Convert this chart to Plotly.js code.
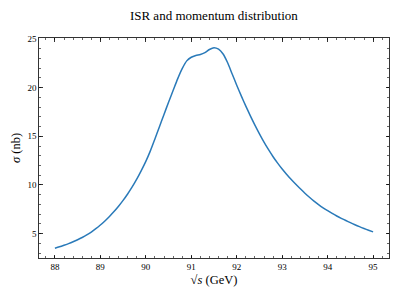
<!DOCTYPE html>
<html>
<head>
<meta charset="utf-8">
<script src="https://cdn.plot.ly/plotly-3.0.1.min.js"></script>
<style>html,body{margin:0;padding:0;background:#fff;}#chart{width:399px;height:299px;}</style>
</head>
<body>
<div id="chart"></div>
<script>
const energy = [88.0,88.1,88.2,88.3,88.4,88.5,88.6,88.7,88.8,88.9,
  89.0,89.1,89.2,89.3,89.4,89.5,89.6,89.7,89.8,89.9,
  90.0,90.1,90.2,90.3,90.4,90.5,90.6,90.7,90.8,90.9,
  91.0,91.1,91.2,91.3,91.4,91.5,91.6,91.7,91.8,91.9,
  92.0,92.1,92.2,92.3,92.4,92.5,92.6,92.7,92.8,92.9,
  93.0,93.1,93.2,93.3,93.4,93.5,93.6,93.7,93.8,93.9,
  94.0,94.1,94.2,94.3,94.4,94.5,94.6,94.7,94.8,94.9,95.0];
const sigma = [3.5,3.64,3.8,3.97,4.16,4.37,4.6,4.86,5.16,5.5,
  5.88,6.3,6.76,7.26,7.81,8.41,9.07,9.79,10.59,11.47,
  12.42,13.5,14.72,15.98,17.24,18.5,19.7,20.9,21.95,22.75,
  23.12,23.3,23.4,23.6,23.92,24.1,23.95,23.45,22.55,21.4,
  20.25,19.15,18.1,17.1,16.15,15.25,14.4,13.62,12.9,12.24,
  11.63,11.07,10.55,10.07,9.6,9.15,8.73,8.34,7.98,7.65,
  7.35,7.07,6.81,6.57,6.34,6.12,5.91,5.71,5.52,5.34,5.17];
const xTicks = [88,89,90,91,92,93,94,95];
const yTicks = [5,10,15,20,25];
const titleText = 'ISR and momentum distribution';
const xLabel = '\u221A<i>s</i> (GeV)';
const yLabel = '<i>\u03C3</i> (nb)';

const serif = 'Liberation Serif, DejaVu Serif, serif';
const axisCommon = {
  ticks: 'inside', ticklen: 3.5, tickwidth: 0.8, tickcolor: '#000',
  showline: true, linecolor: '#000', linewidth: 0.8, mirror: 'allticks',
  showgrid: false, zeroline: false,
  tickfont: {family: serif, size: 9, color: '#000'}
};
const layout = {
  width: 399, height: 299,
  margin: {l: 39, r: 10, t: 38, b: 41},
  paper_bgcolor: '#fff', plot_bgcolor: '#fff',
  showlegend: false,
  title: {text: titleText, font: {family: serif, size: 13, color: '#000'}, x: 0.536, xanchor: 'center', y: 0.948, yanchor: 'middle'},
  xaxis: Object.assign({}, axisCommon, {
    range: [87.65, 95.35], tickvals: xTicks, ticktext: xTicks.map(String),
    minor: {dtick: 0.2, tick0: 88, ticks: 'inside', ticklen: 2, tickwidth: 0.6, tickcolor: '#000'},
    title: {text: xLabel, font: {family: serif, size: 12.5, color: '#000'}, standoff: 4}
  }),
  yaxis: Object.assign({}, axisCommon, {
    range: [2.49, 25.1], tickvals: yTicks, ticktext: yTicks.map(String),
    minor: {dtick: 1, tick0: 0, ticks: 'inside', ticklen: 2, tickwidth: 0.6, tickcolor: '#000'},
    title: {text: yLabel, font: {family: serif, size: 12.5, color: '#000'}, standoff: 3}
  })
};
Plotly.newPlot('chart', [{
  x: energy, y: sigma, type: 'scatter', mode: 'lines',
  line: {color: '#2a7ab9', width: 1.5, shape: 'spline', smoothing: 0.8}
}], layout, {staticPlot: true, displayModeBar: false});
</script>
</body>
</html>
